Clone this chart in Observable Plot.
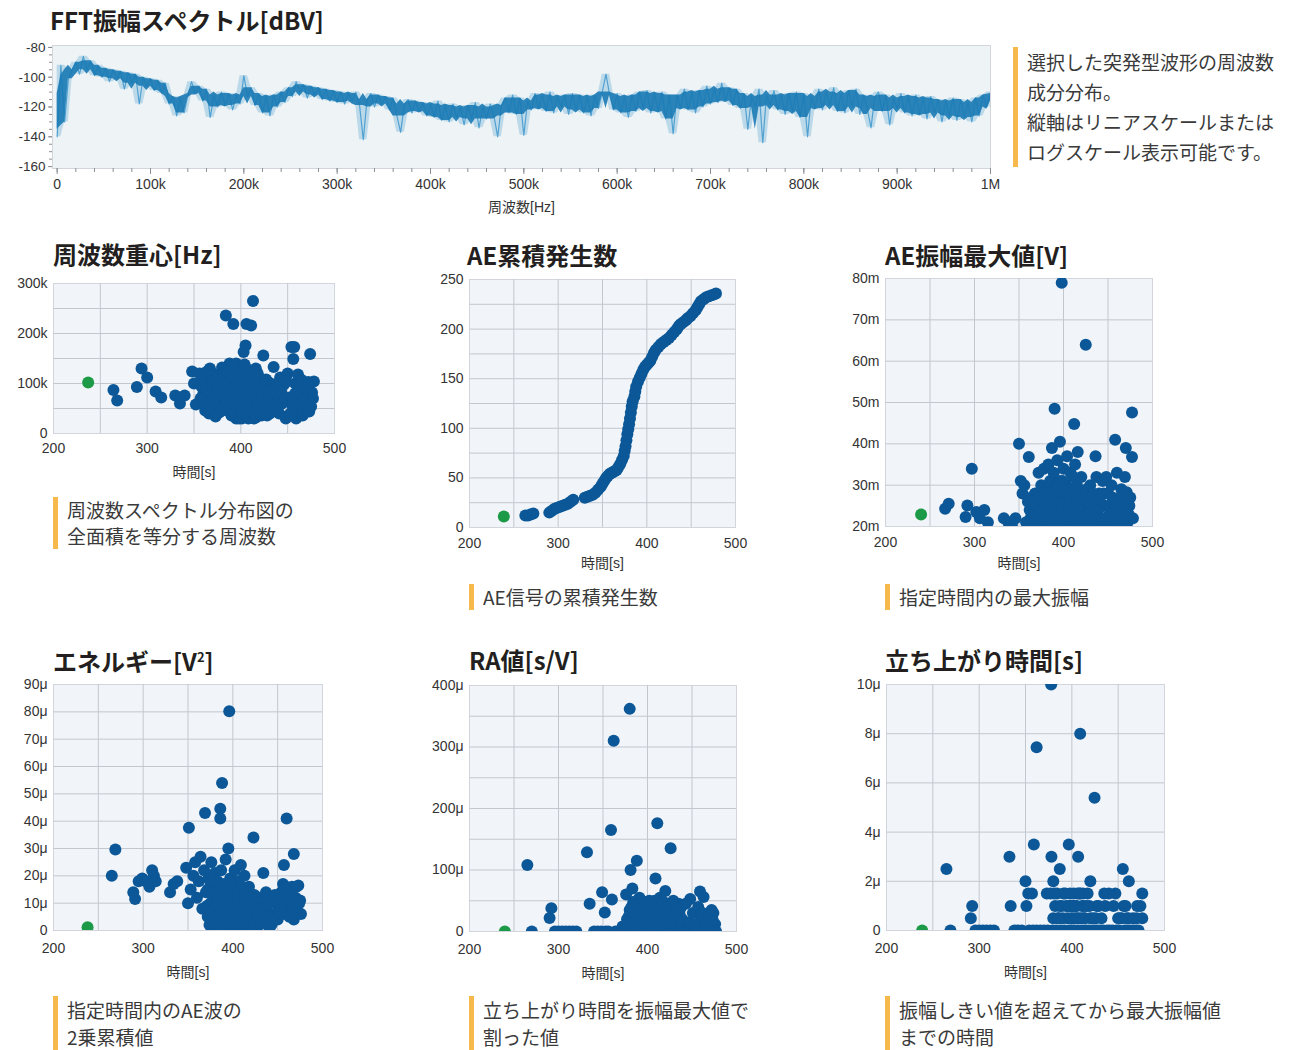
<!DOCTYPE html>
<html><head><meta charset="utf-8">
<script src="https://cdn.jsdelivr.net/npm/d3@7"></script>
<script src="https://cdn.jsdelivr.net/npm/@observablehq/plot@0.6"></script>
<style>
body{margin:0;background:#fff;}
#root{position:relative;width:1315px;height:1050px;overflow:hidden;font-family:"Noto Sans CJK JP",sans-serif;color:#231f20;background:#fff;}
.title{position:absolute;font-weight:700;font-size:24px;line-height:24px;white-space:nowrap;color:#231f20;}
.title sup{font-size:13px;vertical-align:9px;line-height:0;}
.note{position:absolute;font-size:19px;color:#3a3a3a;padding-left:9px;border-left:5px solid #f8b94c;white-space:nowrap;}
.chart{position:absolute;}
</style></head><body><div id="root"></div>
<script>
// ---------------- DATA ----------------
// FFT amplitude spectrum [dBV], one value per 4 kHz bin from 0 to 1 MHz
const fftBinStepKHz = 4;
const fftDbv = [
-140,-92,-130,-101,-95,-90,-98,-86,-95,-89,-99,-92,-100,-94,-103,-95,-101,-96,-108,-97,
-104,-98,-118,-100,-106,-101,-109,-102,-111,-104,-118,-113,-126,-114,-124,-112,-103,-111,-106,-116,
-108,-127,-112,-120,-110,-119,-111,-122,-112,-118,-99,-113,-107,-119,-111,-124,-113,-126,-112,-120,
-110,-117,-107,-113,-103,-110,-105,-114,-106,-112,-107,-115,-108,-116,-109,-117,-110,-118,-111,-116,
-110,-119,-142,-115,-111,-120,-112,-118,-113,-122,-114,-126,-137,-118,-115,-124,-116,-123,-117,-126,
-118,-127,-116,-129,-119,-130,-118,-127,-120,-132,-119,-128,-117,-134,-120,-128,-118,-126,-140,-119,
-114,-124,-112,-125,-114,-139,-116,-122,-111,-121,-112,-123,-110,-124,-113,-120,-112,-125,-111,-122,
-112,-124,-113,-126,-112,-121,-110,-98,-112,-122,-111,-124,-113,-127,-112,-123,-110,-121,-109,-124,
-111,-123,-110,-128,-112,-138,-112,-121,-108,-122,-110,-124,-109,-120,-106,-118,-108,-117,-104,-116,
-107,-119,-108,-121,-111,-135,-113,-120,-108,-144,-112,-119,-109,-122,-112,-125,-111,-123,-110,-127,
-111,-140,-113,-121,-108,-122,-110,-119,-107,-123,-111,-124,-109,-120,-108,-125,-112,-121,-134,-113,
-110,-123,-112,-132,-114,-121,-111,-124,-113,-126,-112,-125,-114,-128,-113,-124,-115,-130,-116,-126,
-114,-129,-115,-127,-117,-130,-114,-126,-112,-120,-110
];
const fftFreqTicks = [0,100000,200000,300000,400000,500000,600000,700000,800000,900000,1000000];
const fftDbTicks = [-80,-100,-120,-140,-160];

const timeTicks = [200,300,400,500];
const timeGrid = [250,300,350,400,450];

// [time s, centroid kHz]; first entry = selected (green) event
const centroidPts = [[237,102],
[264,87],[268,66],[289,93],[294,130],[300,112],[309,84],[315,72],[330,76],[335,60],[340,76],[348,124],[350,100],[352,58],
[356,120],[358,94],[360,80],[362,46],[365,110],[367,130],[368,64],[370,90],[372,50],[374,118],[375,76],[377,42],[378,100],[380,132],[380,60],
[383,86],[384,236],[385,46],[386,112],[387,70],[388,140],[390,96],[390,36],[391,55],[392,219],[393,120],[394,78],[395,30],[396,104],[397,62],[398,44],[399,134],[400,88],[401,30],[402,70],[403,163],[403,112],[404,50],[405,176],[405,92],[406,219],[406,34],[407,128],[408,76],[409,58],[410,100],[411,216],[411,40],[412,118],[413,265],[413,82],[414,30],[415,64],[416,130],[417,48],[418,94],[420,72],[421,110],[422,36],[424,156],[424,60],[426,84],[428,36],[430,102],[432,66],[435,133],[436,90],[438,48],[440,76],[442,112],[444,60],[446,98],[448,30],[450,120],[451,36],[452,72],[454,173],[455,56],[456,149],[457,173],[458,100],[459,30],[460,84],[461,118],[462,46],[464,68],[465,107],[466,36],[468,88],[470,46],[471,60],[472,103],[474,159],[475,54],[476,82],[478,104],
[357,70],[359,108],[361,58],[363,88],[364,124],[366,40],[369,104],[371,72],[373,34],[376,96],[379,50],[381,116],[382,80],[384,62],[385,124],[387,100],[389,82],[389,50],[391,118],[392,92],[393,40],[394,64],[395,140],[396,80],[397,110],[398,30],[399,56],[400,120],[401,100],[402,40],[403,84],[404,138],[405,66],[406,52],[407,100],[408,30],[409,118],[410,74],[411,56],[412,92],[413,40],[414,108],[415,86],[416,32],[417,70],[418,120],[419,54],[420,40],[421,90],[423,76],[425,48],[427,108],[429,62],[431,40],[433,86],[437,58],[439,100],[441,40],[443,84],[447,70],[449,104],[453,40],[456,62],[458,80],[463,56],[467,50],[469,70],[473,44],[477,70]];

// [time s, cumulative AE count]
const cumulativePts = [[238.7,11],
[263,12],[266,12],[269,13],[272,14],
[290,15],[293,17],[296,19],[299,20],[302,21],[305,22],[308,23],[311,24],[314,26],[317,28],
[330,30],[333,31],[336,32],[339,33],[342,35],[345,38],[348,41],[350,44],[352,47],[354,50],[356,52],[358,54],[360,55],[362,56],[364,57],[366,58],[368,61],[370,64],[372,68],[374,72],[375,77],[376,82],[377,88],[378,94],[379,99],[380,104],[381,110],[382,116],[383,122],[384,127],[386,132],[387,137],[388,142],[390,147],[392,151],[394,155],[396,159],[398,162],[400,164],[402,166],[404,168],[406,172],[408,176],[410,179],[413,182],[416,185],[419,187],[422,189],[425,191],[428,194],[431,197],[434,200],[436,203],[438,205],[441,207],[444,209],[446,211],[449,213],[452,216],[455,219],[457,222],[459,225],[461,228],[464,230],[467,232],[470,233],[473,234],[476,235],[478,236]];

// [time s, max amplitude mV]
const amplitudePts = [[240,22.9],
[267,24.3],[271,25.5],[290,22.3],[292,25.1],[297,34],[302,23.5],[306,22],[311,24],[315,21],
[333,22],[338,21],[342,20.5],[346,22],[350,40],[352,31],[354,28],[356,30],[358,21],[360,26],[361,36.8],
[363,22],[365,24],[367,21],[368,28],[370,20.5],[371,26],[372,33],[374,23],[375,30],[376,21],[377,27],[378,34],[379,24],[380,22],[381,29],[382,20.5],[383,35],[384,25],[385,31],[386,22],[387,39],[387,27],[388,21],[389,33],[390,48.5],[390,24],[391,29],[392,22],[393,36],[394,20.5],[395,26],[396,40.5],[396,31],[397,23],[398,79],[398,28],[399,21],[400,34],[401,25],[402,22],[403,30],[404,37],[405,24],[406,27],[407,21],[408,33],[409,23],[410,29],[411,26],[412,44.8],[412,21],[413,35],[414,24],[415,30],[416,38],[417,22],[418,27],[420,32],[421,21],[422,25],[424,28],[425,64],[426,24],[428,21],[430,30],[432,26],[434,20.5],[436,37],[437,32],[438,23],[440,28],[442,21],[444,31],[446,25],[448,32],[449,21],[450,28],[452,23],[454,30],[456,22],[458,41],[459,26],[460,33],[461,20.5],[463,24],[465,29],[467,22],[469,32],[470,39],[471,28.3],[472,21],[474,25],[476,22],[477,47.6],[477,36.8],[478,22],
[362,24],[364,27],[366,23],[369,25],[371,22],[373,27],[375,24],[377,22],[379,28],[380,25],[382,23],[384,28],[385,21],[386,26],[388,24],[389,28],[391,23],[392,26],[393,21],[394,30],[395,23],[397,26],[398,22],[399,31],[400,24],[401,28],[402,20.5],[403,26],[404,23],[405,29],[406,22],[407,25],[408,27],[409,21],[410,24],[411,32],[413,22],[414,27],[416,25],[417,29],[418,21],[419,24],[421,27],[423,22],[426,29],[427,23],[429,26],[431,22],[433,28],[435,25],[439,24],[441,27],[443,22],[445,28],[447,22],[451,25],[453,21],[455,27],[457,24],[462,22],[464,27],[466,25],[468,21],[473,23],[475,27]];

// [time s, energy µV²]
const energyPts = [[238,1.2],
[265,20],[269,29.6],[289,14],[291,11.5],[295,18],[299,19],[303,18],[307,16],[310,22],[312,20],[314,18],
[330,14],[334,17],[338,18],[348,23],[350,10],[351,37.6],[353,15],[356,20],[358,25],[360,12],[362,18],[364,27],[366,8],[368,22],[369,43],[370,14],[372,5],[373,19],[375,10],[376,25],[377,3],[378,16],[379,7],[380,21],[381,12],[382,1],[383,18],[384,4],[385,9],[386,44.5],[386,41],[386,14],[387,22],[388,54],[388,2],[389,6],[390,17],[391,11],[392,26],[393,1.5],[394,8],[395,30],[395,13],[396,80.2],[396,4],[397,19],[398,10],[399,1],[400,15],[401,6],[402,22],[403,3],[404,12],[405,8],[406,18],[407,1],[408,10],[409,24],[410,5],[411,14],[412,2],[413,20],[414,8],[416,12],[417,3],[418,16],[420,6],[421,10],[422,1.5],[423,34],[424,13],[425,5],[427,9],[429,2],[431,7],[433,12],[434,21],[436,4],[438,9],[440,1.5],[442,6],[445,11],[448,4],[451,8],[454,14],[456,17],[457,24],[458,10],[460,41],[460,6],[462,13],[464,9],[466,16],[468,28],[468,4],[470,12],[472,7],[473,16.5],[475,11],[476,6],
[371,9],[372,15],[374,2],[375,18],[376,6],[378,11],[379,1.5],[380,14],[381,5],[382,9],[383,2.5],[384,13],[385,16],[386,6],[387,1],[388,10],[389,13],[390,4],[391,7],[392,15],[393,10],[394,1],[395,5],[396,12],[397,8],[398,2],[399,17],[400,7],[401,11],[402,1.5],[403,16],[404,5],[405,2],[406,11],[407,14],[408,4],[409,7],[410,16],[411,1],[412,9],[413,5],[414,13],[415,2],[416,7],[417,11],[418,4],[419,1],[420,12],[421,3],[423,8],[424,2],[426,11],[428,5],[430,12],[432,3],[435,8],[437,14],[439,5],[441,10],[443,2],[447,13],[450,4],[453,10],[455,6],[459,16],[463,5],[465,12],[467,8],[471,16],[474,10]];

// [time s, RA µs/V]
const raPts = [[239.7,0],
[265,108],[270,0],[290,22],[292,38],[296,0],[300,0],[304,0],[308,0],[312,0],[316,0],[320,0],
[332,129],[335,45],[340,0],[344,0],[348,0],[349,64],[352,31],[353,0],[356,0],[359,165],[360,52],[362,310],[364,0],[367,0],[370,0],[372,8],[374,0],[376,60],[377,20],[378,0],[380,362],[380,35],[381,100],[382,5],[383,70],[384,48],[385,0],[386,15],[387,28],[388,115],[389,40],[390,0],[391,55],[392,10],[393,32],[394,0],[395,22],[396,45],[397,3],[398,38],[399,14],[400,0],[401,26],[402,50],[403,8],[404,0],[405,18],[406,35],[407,4],[408,0],[409,86],[409,44],[410,12],[411,176],[412,25],[413,0],[414,55],[415,8],[416,30],[418,0],[419,16],[420,66],[422,5],[424,0],[426,135.5],[427,22],[428,34],[430,0],[432,10],[434,0],[435,45],[436,29],[438,0],[440,6],[442,0],[445,0],[448,53],[450,0],[452,8],[454,0],[456,12],[458,27],[459,65],[461,0],[463,56],[465,18],[467,0],[469,8],[471,0],[473,20],[474,30],[476,12],[477,0],
[378,12],[379,25],[381,0],[382,40],[384,18],[385,30],[386,0],[387,8],[388,50],[389,20],[390,12],[391,30],[392,0],[393,45],[394,18],[395,5],[396,28],[397,40],[398,0],[399,48],[400,20],[401,8],[402,32],[403,0],[404,42],[405,5],[406,15],[407,28],[408,50],[410,30],[411,0],[412,42],[413,15],[414,5],[415,38],[416,0],[417,22],[418,48],[420,10],[421,28],[423,40],[425,14],[429,50],[431,25],[433,40],[437,38],[439,20],[443,45],[447,15],[451,30],[455,0],[457,40],[460,20],[462,30],[466,10],[470,25],[472,35],[475,0]];

// [time s, rise time µs]
const risePts = [[238.5,0],
[264.7,2.5],[269,0],[291,0.5],[292.5,1],[296,0],[300,0],[304,0],[308,0],[312,0],[316,0],
[332.7,3],[334,1],[338,0],[342,0],[346,0],[350,2],[351,1],[353,1.5],[354,0],[357,1.5],[358,0],[359,3.5],[362,7.45],[362,0],[366,0],[370,0],[373,1.5],[374,0],[377,1.5],[377.7,10],[378,3],[379,0],[380,2],[380,0.5],[382,1],[383,0],[385,0.5],[387,2.5],[387,1],[388,0],[390,0.5],[391,1.5],[392,0],[394,1],[395,0.5],[396.7,3.5],[397,0],[398,1],[399,0.5],[400,0],[401,1],[402,0.5],[403,0],[404,1],[405,0.5],[406,1.5],[406.8,3],[407,0],[409,8],[409,1.5],[410,0.5],[411,0],[412,1.5],[413,1],[414,0.5],[415,0],[417,1.5],[418,0],[420,2],[420,0.5],[422,0],[424.5,5.4],[425,0],[427,1],[428,0],[431,0],[434,0],[435,1.5],[436,1],[438,0],[441,0],[444,0],[447,1.5],[448,0],[450,0.5],[451,0],[454,0.5],[455,2.5],[456,1],[457,0],[459,0.5],[460,0],[461,0.5],[461.5,2],[463,0],[466,0],[469,0],[470.5,1],[472,0],[476,1.5],[476,0.5],
[381,1.5],[384,1.5],[386,0.5],[389,1],[393,1.5],[396,1],[398,1.5],[400,1],[402,1.5],[403,1],[405,1],[407,0.5],[408,1.5],[411,1],[413,0.5],[416,1],[419,1],[423,0.5],[426,0.5],[429,1],[432,0.5],[440,1.5],[445,1],[452,0.5],[458,1],[466,0.5],[470,0.5],[474,1]];

// ---------------- RENDER ----------------
const BLUE = "#0b5797", GREEN = "#1d9a47", BG = "#f1f4f8", GRID = "#c3c8d0", FRAME = "#d2d6dc";
const FONT = "'Liberation Sans', Arial, 'Noto Sans CJK JP', sans-serif";
const root = document.getElementById("root");

function place(el, left, top) {
  const wrap = document.createElement("div");
  wrap.className = "chart";
  wrap.style.left = left + "px"; wrap.style.top = top + "px";
  wrap.appendChild(el); root.appendChild(wrap);
}
function addTitle(html, x, y) {
  const d = document.createElement("div");
  d.className = "title"; d.innerHTML = html;
  d.style.left = x + "px"; d.style.top = y + "px";
  root.appendChild(d);
}
function addNote(lines, x, y, lh) {
  const d = document.createElement("div");
  d.className = "note"; d.style.lineHeight = lh + "px";
  d.innerHTML = lines.join("<br>");
  d.style.left = x + "px"; d.style.top = y + "px";
  root.appendChild(d);
}

// ---- FFT spectrum ----
{
  const spectrum = fftDbv.map((v, i) => ({f: i * fftBinStepKHz * 1000, db: v}));
  // dense core and blurred halo of the noisy trace, from neighbouring bins
  const core = spectrum.map((d, i) => {
    const w = fftDbv.slice(Math.max(0, i - 2), i + 3);
    return {f: d.f, lo: d3.quantile(w, 0.25), hi: d3.quantile(w, 0.75)};
  });
  const halo = spectrum.map((d, i) => {
    const w = fftDbv.slice(Math.max(0, i - 1), i + 2);
    return {f: d.f, lo: d3.min(w), hi: d3.max(w)};
  });
  const [x0, y0, x1, y1] = [52, 45, 990, 168];
  const mL = 45, mR = 30, mT = 10, mB = 52;
  const fmtF = v => v === 0 ? "0" : v >= 1e6 ? "1M" : (v / 1000) + "k";
  const svg = Plot.plot({
    width: x1 - x0 + mL + mR, height: y1 - y0 + mT + mB,
    marginLeft: mL, marginRight: mR, marginTop: mT, marginBottom: mB,
    style: {fontFamily: FONT, fontSize: "13.5px", color: "#333", background: "transparent", overflow: "visible"},
    x: {domain: [-5000, 1000000]},
    y: {domain: [-161.3, -78.7]},
    marks: [
      Plot.frame({fill: "#eef3f6", stroke: FRAME}),
      Plot.axisX(d3.range(0, 1000001, 20000), {tickSize: 4, tickFormat: () => "", stroke: "#8a8f96", label: null}),
      Plot.axisX(fftFreqTicks, {tickSize: 6, tickPadding: 5, tickFormat: fmtF, stroke: "#8a8f96", label: "周波数[Hz]", labelAnchor: "center", labelArrow: "none", labelOffset: 43, fontSize: 14}),
      Plot.axisY(d3.range(-160, -79, 5), {tickSize: 3, tickFormat: () => "", stroke: "#8a8f96", label: null}),
      Plot.axisY(fftDbTicks, {tickSize: 4, tickPadding: 3, stroke: "#8a8f96", tickFormat: d => String(d), label: null}),
      Plot.areaY(halo, {x: "f", y1: "lo", y2: "hi", fill: "#5ea9d4", fillOpacity: 0.35, clip: true}),
      Plot.line(spectrum, {x: "f", y: "db", stroke: "#3d97cc", strokeWidth: 1.2, strokeOpacity: 0.85, clip: true}),
      Plot.areaY(core, {x: "f", y1: "lo", y2: "hi", fill: "#1a7ab4", fillOpacity: 0.9, clip: true})
    ]
  });
  place(svg, x0 - mL, y0 - mT);
  addTitle("FFT振幅スペクトル[dBV]", 50, 8);
  addNote(["選択した突発型波形の周波数", "成分分布。", "縦軸はリニアスケールまたは", "ログスケール表示可能です。"], 1013, 47, 30);
}

// ---- scatter panels ----
function scatter(p) {
  const [x0, y0, x1, y1] = p.rect;
  const mL = 60, mR = 20, mT = 10, mB = 58;
  const pts = p.pts.map(([t, v]) => ({t, v}));
  const svg = Plot.plot({
    width: x1 - x0 + mL + mR, height: y1 - y0 + mT + mB,
    marginLeft: mL, marginRight: mR, marginTop: mT, marginBottom: mB,
    style: {fontFamily: FONT, fontSize: "14px", color: "#333", background: "transparent", overflow: "visible"},
    x: {domain: [200, 500]},
    y: {domain: p.y},
    marks: [
      Plot.frame({fill: BG, stroke: FRAME}),
      Plot.gridX(timeGrid, {stroke: GRID, strokeOpacity: 1}),
      Plot.gridY(p.yGrid, {stroke: GRID, strokeOpacity: 1}),
      Plot.axisX(timeTicks, {tickSize: 0, tickPadding: p.tickPad, label: "時間[s]", labelAnchor: "center", labelArrow: "none", labelOffset: p.labelOffset}),
      Plot.axisY(p.yTicks, {tickSize: 0, tickPadding: 6, tickFormat: p.fmt, label: null}),
      Plot.dot(pts.slice(1), {x: "t", y: "v", r: 6, fill: BLUE, clip: true}),
      Plot.dot(pts.slice(0, 1), {x: "t", y: "v", r: 6, fill: GREEN, clip: true})
    ]
  });
  place(svg, x0 - mL, y0 - mT);
  addTitle(p.title, p.titleX, p.titleY);
  addNote(p.note, p.noteX, p.noteY, p.noteLH);
}

const mu = v => v === 0 ? "0" : v + "μ";
scatter({title: "周波数重心[Hz]", titleX: 53, titleY: 242, pts: centroidPts, rect: [53, 283, 334, 433],
  y: [0, 300], yTicks: [0, 100, 200, 300], yGrid: [50, 100, 150, 200, 250], fmt: v => v === 0 ? "0" : v + "k",
  tickPad: 10, labelOffset: 43, note: ["周波数スペクトル分布図の", "全面積を等分する周波数"], noteX: 53, noteY: 497, noteLH: 26});
scatter({title: "AE累積発生数", titleX: 467, titleY: 243, pts: cumulativePts, rect: [469, 279, 735, 527],
  y: [0, 250], yTicks: [0, 50, 100, 150, 200, 250], yGrid: [25, 50, 75, 100, 125, 150, 175, 200, 225], fmt: v => v,
  tickPad: 11, labelOffset: 40, note: ["AE信号の累積発生数"], noteX: 469, noteY: 584, noteLH: 26});
scatter({title: "AE振幅最大値[V]", titleX: 885, titleY: 243, pts: amplitudePts, rect: [885, 278, 1152, 526],
  y: [20, 80], yTicks: [20, 30, 40, 50, 60, 70, 80], yGrid: [30, 40, 50, 60, 70], fmt: v => v + "m",
  tickPad: 11, labelOffset: 41, note: ["指定時間内の最大振幅"], noteX: 885, noteY: 584, noteLH: 26});
scatter({title: "エネルギー[V<sup>2</sup>]", titleX: 53, titleY: 649, pts: energyPts, rect: [53, 684, 322, 930],
  y: [0, 90], yTicks: [0, 10, 20, 30, 40, 50, 60, 70, 80, 90], yGrid: [10, 20, 30, 40, 50, 60, 70, 80], fmt: mu,
  tickPad: 13, labelOffset: 46, note: ["指定時間内のAE波の", "2乗累積値"], noteX: 53, noteY: 996, noteLH: 27});
scatter({title: "RA値[s/V]", titleX: 469, titleY: 648, pts: raPts, rect: [469, 685, 736, 931],
  y: [0, 400], yTicks: [0, 100, 200, 300, 400], yGrid: [50, 100, 150, 200, 250, 300, 350], fmt: mu,
  tickPad: 13, labelOffset: 46, note: ["立ち上がり時間を振幅最大値で", "割った値"], noteX: 469, noteY: 996, noteLH: 27});
scatter({title: "立ち上がり時間[s]", titleX: 885, titleY: 648, pts: risePts, rect: [886, 684, 1164, 930],
  y: [0, 10], yTicks: [0, 2, 4, 6, 8, 10], yGrid: [2, 4, 6, 8], fmt: mu,
  tickPad: 13, labelOffset: 46, note: ["振幅しきい値を超えてから最大振幅値", "までの時間"], noteX: 885, noteY: 996, noteLH: 27});
</script></body></html>
